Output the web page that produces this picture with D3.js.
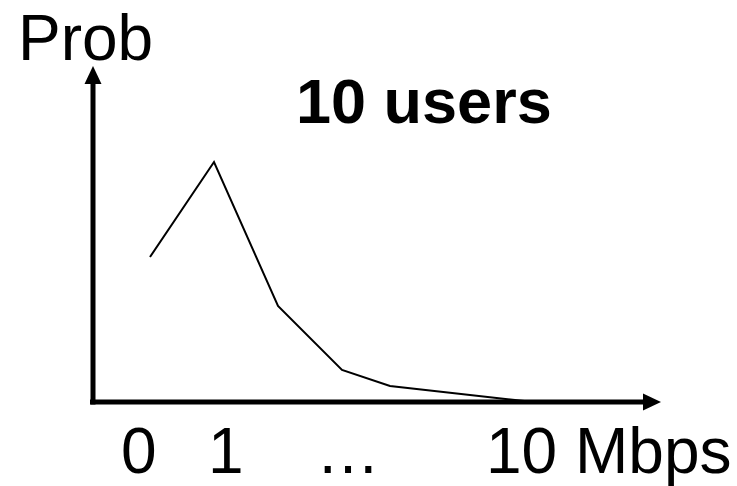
<!DOCTYPE html>
<html><head><meta charset="utf-8">
<script src="https://cdn.jsdelivr.net/npm/d3@7"></script>
<style>body{margin:0;background:#fff}svg{display:block}</style>
</head><body>
<script>
const rates = [0, 1, 2, 3, 3.75, 5.85];
const probs = [0.145, 0.24, 0.096, 0.032, 0.016, 0.001];
const xLabels = ["0", "1", "…", "10 Mbps"];
const yLabel = "Prob";
const title = "10 users";

const W = 737, H = 486;
const svg = d3.select("body").append("svg").attr("width", W).attr("height", H);
const x = d3.scaleLinear().domain([0, 6]).range([150, 534]);
const y = d3.scaleLinear().domain([0, 0.24]).range([402, 162]);

const axX = 93, axY = y(0);
const font = "Arial, 'Liberation Sans', sans-serif";

// axes
svg.append("line").attr("x1", axX).attr("x2", axX).attr("y1", axY + 2.5).attr("y2", 82)
  .attr("stroke", "#000").attr("stroke-width", 5);
svg.append("path").attr("d", `M${axX},66L${axX-8.5},84L${axX+8.5},84Z`).attr("fill", "#000");
svg.append("line").attr("x1", axX - 3).attr("x2", 645).attr("y1", axY).attr("y2", axY)
  .attr("stroke", "#000").attr("stroke-width", 5);
svg.append("path").attr("d", `M661,${axY}L643,${axY-8.5}L643,${axY+8.5}Z`).attr("fill", "#000");

// line
const line = d3.line().x((d, i) => x(rates[i])).y(d => y(d));
svg.append("path").datum(probs).attr("d", line).attr("fill", "none")
  .attr("stroke", "#000").attr("stroke-width", 2).attr("stroke-linejoin", "miter");

// texts
svg.append("text").attr("x", 18).attr("y", 60).attr("font-family", font)
  .attr("font-size", 64).text(yLabel);
svg.append("text").attr("x", 296).attr("y", 123).attr("font-family", font)
  .attr("font-size", 63).attr("font-weight", "bold").text(title);
const lx = [121, 208, 316, 486];
svg.selectAll("text.xl").data(xLabels).enter().append("text").attr("class", "xl")
  .attr("x", (d, i) => lx[i]).attr("y", 473).attr("font-family", font)
  .attr("font-size", 64).text(d => d);
</script>
</body></html>
